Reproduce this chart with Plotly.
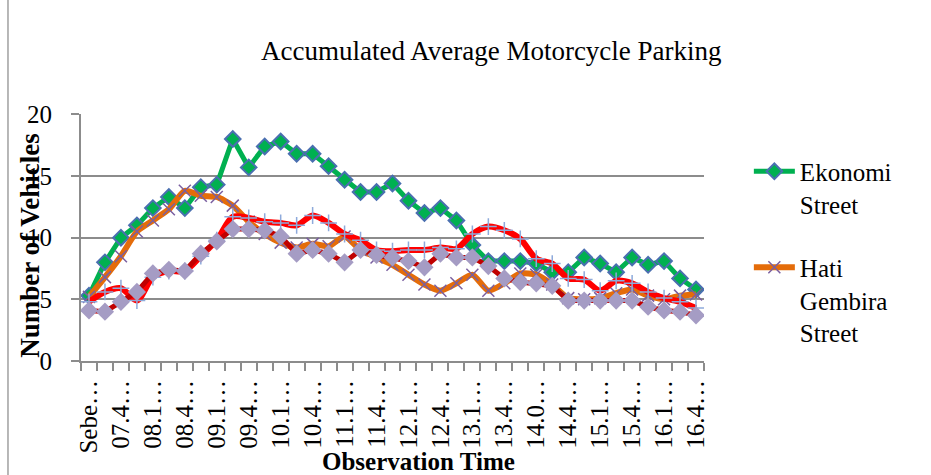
import plotly.graph_objects as go

# ---------------- data ----------------
tick_labels = ["Sebe…", "07.4…", "08.1…", "08.4…", "09.1…", "09.4…", "10.1…", "10.4…",
               "11.1…", "11.4…", "12.1…", "12.4…", "13.1…", "13.4…", "14.0…", "14.4…",
               "15.1…", "15.4…", "16.1…", "16.4…"]

ekonomi = [5.3, 8.0, 10.0, 11.0, 12.4, 13.3, 12.4, 14.1, 14.3, 18.0,
           15.7, 17.4, 17.8, 16.8, 16.8, 15.8, 14.7, 13.7, 13.7, 14.4,
           13.0, 12.0, 12.4, 11.4, 9.4, 8.1, 8.1, 8.1, 7.9, 7.2,
           7.2, 8.4, 7.9, 7.2, 8.4, 7.8, 8.1, 6.7, 5.8]

hati_gembira = [5.2, 6.8, 8.5, 10.5, 11.4, 12.3, 13.8, 13.4, 13.3, 12.6,
                11.3, 10.3, 9.6, 9.2, 9.5, 9.3, 10.1, 9.0, 8.4, 7.8,
                7.0, 6.2, 5.7, 6.3, 7.0, 5.7, 6.3, 7.1, 7.0, 6.2,
                5.1, 5.0, 5.1, 5.5, 5.8, 5.3, 5.0, 5.3, 5.4]

series3 = [4.8, 5.6, 5.9, 4.9, 6.8, 7.3, 7.3, 8.5, 9.8, 11.7,
           11.6, 11.3, 11.2, 11.0, 11.8, 11.2, 10.3, 9.8, 9.0, 8.9,
           9.0, 9.0, 9.2, 9.1, 10.3, 10.9, 10.6, 9.9, 8.3, 7.9,
           6.7, 6.6, 5.7, 6.5, 6.3, 5.6, 5.1, 4.8, 4.3]

series4 = [4.1, 4.0, 4.8, 5.6, 7.1, 7.4, 7.3, 8.7, 9.7, 10.7,
           10.7, 10.6, 10.1, 8.7, 9.0, 8.7, 8.0, 9.0, 8.6, 8.4,
           8.1, 7.6, 8.7, 8.4, 8.4, 7.7, 6.7, 6.4, 6.3, 6.1,
           4.9, 4.9, 4.9, 4.9, 4.9, 4.4, 4.1, 4.0, 3.7]

y_ticks = [0, 5, 10, 15, 20]

# ---------------- figure ----------------
n = len(ekonomi)
xs = list(range(n))
FONT = "Liberation Serif"
GRID = "#8C8C8C"

fig = go.Figure()

fig.add_trace(go.Scatter(
    x=xs, y=ekonomi, name="Ekonomi<br>Street", mode="lines+markers",
    legendgroup="a",
    line=dict(color="#00B050", width=5),
    marker=dict(symbol="diamond", size=12, color="#00B050",
                line=dict(color="#4A6FB0", width=2))))

fig.add_trace(go.Scatter(
    x=xs, y=hati_gembira, name="Hati<br>Gembira<br>Street", mode="lines+markers",
    legendgroup="b",
    line=dict(color="#E46C0A", width=6, shape="spline", smoothing=0.6),
    marker=dict(symbol="x-thin", size=12, color="#7A5FA0",
                line=dict(color="#7A5FA0", width=1.5))))

fig.add_trace(go.Scatter(
    x=xs, y=series3, name="Series 3", mode="lines+markers", showlegend=False,
    line=dict(color="#FF0000", width=6, shape="spline", smoothing=0.8),
    marker=dict(symbol="cross-thin", size=12, color="#8EAADB",
                line=dict(color="#8EAADB", width=1.5))))

fig.add_trace(go.Scatter(
    x=xs, y=series4, name="Series 4", mode="lines+markers", showlegend=False,
    line=dict(color="#C00000", width=5),
    marker=dict(symbol="diamond", size=14, color="#A59CC4",
                line=dict(width=0))))

fig.update_layout(
    width=931, height=475,
    margin=dict(l=81, r=227, t=114, b=114, autoexpand=False),
    paper_bgcolor="white", plot_bgcolor="white",
    font=dict(family=FONT, size=25, color="black"),
    showlegend=True,
    legend=dict(x=1.072, y=0.86, xanchor="left", yanchor="top",
                font=dict(family=FONT, size=25, color="black"),
                itemwidth=41,
                valign="top", tracegroupgap=28, bgcolor="rgba(0,0,0,0)"),
    xaxis=dict(
        range=[-0.5, n - 0.5], showgrid=False, zeroline=False,
        tickmode="array", tickvals=xs[::2], ticktext=tick_labels,
        tickangle=-90, ticks="", ticklabelstandoff=7,
        tickfont=dict(family=FONT, size=25),
        showline=True, linecolor=GRID, linewidth=2,
        minor=dict(tick0=-0.5, dtick=1, ticks="outside", ticklen=8,
                   tickcolor=GRID, tickwidth=1.5, showgrid=False)),
    yaxis=dict(
        range=[0, 20.03], tickmode="array", tickvals=y_ticks,
        ticktext=[str(v) for v in y_ticks],
        showgrid=True, gridcolor=GRID, gridwidth=2, zeroline=False,
        ticks="outside", ticklen=8, tickcolor=GRID, tickwidth=1.5,
        ticklabelstandoff=14,
        tickfont=dict(family=FONT, size=25),
        showline=True, linecolor=GRID, linewidth=2),
    annotations=[
        dict(text="Accumulated Average Motorcycle Parking", xref="paper", yref="paper",
             x=0.659, y=1.255, xanchor="center", yanchor="middle", showarrow=False,
             font=dict(family=FONT, size=27)),
        dict(text="<b>Number of Vehicles</b>", xref="paper", yref="paper",
             x=-0.082, y=0.47, xanchor="center", yanchor="middle", textangle=-90,
             showarrow=False, font=dict(family=FONT, size=27)),
        dict(text="<b>Observation Time</b>", xref="paper", yref="paper",
             x=0.541, y=-0.405, xanchor="center", yanchor="middle", showarrow=False,
             font=dict(family=FONT, size=25)),
    ],
    shapes=[
        dict(type="line", xref="paper", yref="paper",
             x0=-0.1172, x1=-0.1172, y0=-0.47, y1=1.47,
             line=dict(color="#A0A0A0", width=1.5)),
    ],
)

fig.write_html("out.html",
               config={"displayModeBar": False},
               post_script="document.body.style.margin='0px';")
